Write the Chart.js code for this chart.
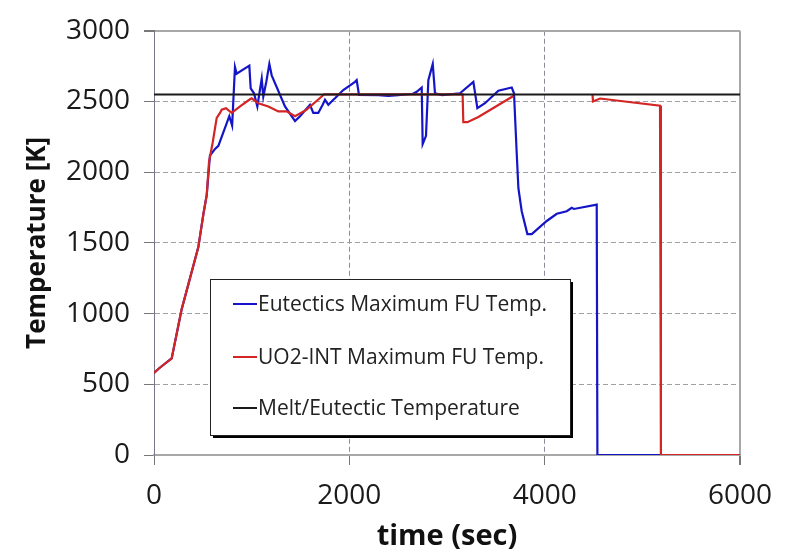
<!DOCTYPE html>
<html>
<head>
<meta charset="utf-8">
<script src="https://cdn.jsdelivr.net/npm/chart.js@4.4.0/dist/chart.umd.min.js"></script>
<style>
  html, body { margin: 0; padding: 0; background: #fff; }
</style>
</head>
<body>
<canvas id="tempCanvas" width="789" height="556"></canvas>
<script>
// values
const eutTime = [0, 50, 181, 283, 454, 505, 540, 573, 625, 659, 771, 800, 829, 846, 976, 990, 1024, 1058, 1103, 1119, 1150, 1181, 1205, 1341, 1444, 1495, 1597, 1631, 1682, 1727, 1751, 1785, 1836, 1853, 1938, 2058, 2075, 2099, 2300, 2400, 2500, 2650, 2690, 2741, 2751, 2785, 2809, 2854, 2877, 2950, 3133, 3270, 3311, 3389, 3526, 3663, 3686, 3714, 3731, 3765, 3823, 3868, 4021, 4124, 4226, 4277, 4300, 4533, 4540, 6000];
const eutTemp = [580, 612, 683, 1030, 1470, 1701, 1840, 2118, 2165, 2187, 2396, 2330, 2743, 2697, 2754, 2592, 2558, 2465, 2662, 2535, 2640, 2766, 2685, 2465, 2361, 2396, 2477, 2419, 2419, 2477, 2512, 2477, 2512, 2523, 2581, 2639, 2651, 2546, 2545, 2540, 2545, 2555, 2569, 2599, 2199, 2257, 2651, 2766, 2558, 2545, 2558, 2639, 2453, 2488, 2576, 2599, 2558, 2130, 1887, 1724, 1562, 1562, 1655, 1706, 1724, 1748, 1740, 1771, 0, 0];

const uo2Time = [0, 50, 181, 283, 454, 505, 540, 563, 601, 642, 676, 693, 737, 795, 881, 983, 1000, 1068, 1171, 1273, 1358, 1444, 1563, 1717, 1740, 3160, 3167, 3209, 3321, 3680, 3700, 4490, 4495, 4567, 5181, 5190, 6000];
const uo2Temp = [580, 612, 683, 1030, 1470, 1701, 1840, 2072, 2210, 2384, 2419, 2442, 2453, 2419, 2465, 2516, 2523, 2488, 2465, 2430, 2430, 2396, 2442, 2535, 2550, 2550, 2354, 2354, 2391, 2539, null, 2546, 2500, 2521, 2470, 0, 0];

const meltTime = [0, 6000];
const meltTemp = [2550, 2550];

const xTicks = [0, 2000, 4000, 6000];
const seriesLabels = ['Eutectics Maximum FU Temp.', 'UO2-INT Maximum FU Temp.', 'Melt/Eutectic Temperature'];

const FONT = '"Open Sans", sans-serif';

function toPoints(xs, ys) {
  return xs.map((x, i) => ({ x: x, y: ys[i] }));
}

// legend box sitting inside the plot, with a hard black shadow
const boxLegend = {
  id: 'boxLegend',
  afterDraw(chart) {
    const ctx = chart.ctx;
    const x0 = 210, y0 = 279, w = 360, h = 156;
    ctx.save();
    ctx.fillStyle = '#000';
    ctx.fillRect(x0 + 3, y0 + 3, w, h);
    ctx.fillStyle = '#fff';
    ctx.fillRect(x0, y0, w, h);
    ctx.strokeStyle = '#222';
    ctx.lineWidth = 1;
    ctx.strokeRect(x0 + 0.5, y0 + 0.5, w, h);
    ctx.font = '21px ' + FONT;
    ctx.textBaseline = 'middle';
    const rows = [304, 357, 408];
    chart.data.datasets.forEach((ds, i) => {
      const y = rows[i];
      ctx.strokeStyle = ds.borderColor;
      ctx.lineWidth = 2;
      ctx.beginPath();
      ctx.moveTo(233, y);
      ctx.lineTo(257, y);
      ctx.stroke();
      ctx.fillStyle = '#222';
      ctx.fillText(ds.label, 258, y + 1);
    });
    ctx.restore();
  }
};

const ctx = document.getElementById('tempCanvas').getContext('2d');
new Chart(ctx, {
  type: 'line',
  data: {
    datasets: [
      {
        label: seriesLabels[0],
        data: toPoints(eutTime, eutTemp),
        borderColor: '#1515c8',
        borderWidth: 2.2,
        pointRadius: 0,
        tension: 0,
        order: 3,
      },
      {
        label: seriesLabels[1],
        data: toPoints(uo2Time, uo2Temp),
        borderColor: '#d42525',
        borderWidth: 2.2,
        pointRadius: 0,
        tension: 0,
        spanGaps: false,
        order: 2,
      },
      {
        label: seriesLabels[2],
        data: toPoints(meltTime, meltTemp),
        borderColor: '#1a1a1a',
        borderWidth: 2,
        pointRadius: 0,
        tension: 0,
        order: 1,
      }
    ]
  },
  options: {
    responsive: false,
    animation: false,
    layout: { padding: { top: 22, right: 49, left: 0, bottom: 0 } },
    scales: {
      x: {
        type: 'linear',
        min: 0,
        max: 6000,
        afterBuildTicks: (scale) => { scale.ticks = xTicks.map(v => ({ value: v })); },
        afterFit: (scale) => { scale.height = 101; },
        ticks: {
          font: { family: FONT, size: 28 },
          color: '#1a1a1a',
          padding: 14,
          maxRotation: 0,
          callback: (v) => String(v),
        },
        grid: {
          color: (c) => c.tick && c.tick.value === 6000 ? '#a8a8a8' : '#8c8ca0',
          lineWidth: (c) => c.tick && c.tick.value === 6000 ? 2 : 1,
          tickLength: 10,
          tickColor: '#777',
          tickBorderDash: [],
        },
        border: {
          display: true,
          color: '#a8a8a8',
          width: 2,
          dash: (c) => c.tick && (c.tick.value === 6000 || c.tick.value === 0) ? [] : [5, 3],
        },
        title: {
          display: true,
          text: 'time (sec)',
          font: { family: FONT, size: 29, weight: 'bold' },
          color: '#111',
          padding: { top: 0, bottom: 2 },
        }
      },
      y: {
        min: 0,
        max: 3000,
        afterFit: (scale) => { scale.width = 154; },
        ticks: {
          stepSize: 500,
          font: { family: FONT, size: 28 },
          color: '#1a1a1a',
          padding: 14,
          callback: (v) => String(v),
        },
        grid: {
          color: (c) => c.tick && c.tick.value === 3000 ? '#a8a8a8' : '#a0a0a8',
          lineWidth: (c) => c.tick && c.tick.value === 3000 ? 2 : 1,
          tickLength: 10,
          tickColor: '#777',
          tickBorderDash: [],
        },
        border: {
          display: true,
          color: '#777788',
          width: 1,
          dash: (c) => c.tick && (c.tick.value === 3000 || c.tick.value === 0) ? [] : [5, 3],
        },
        title: {
          display: true,
          text: 'Temperature [K]',
          font: { family: FONT, size: 26, weight: 'bold' },
          color: '#111',
          padding: { top: 22, bottom: 0 },
        }
      }
    },
    plugins: {
      legend: { display: false },
      tooltip: { enabled: false },
    }
  },
  plugins: [boxLegend]
});
</script>
</body>
</html>
